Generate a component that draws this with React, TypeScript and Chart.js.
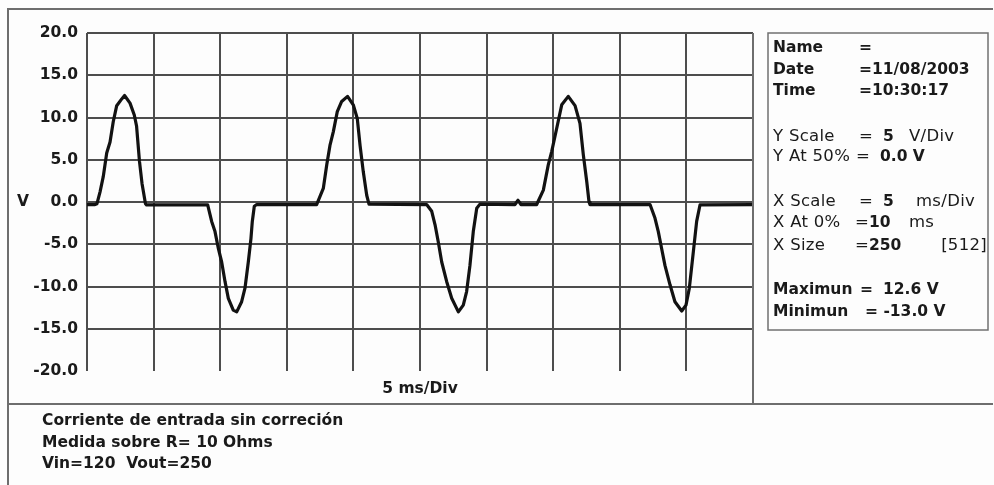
import React, { useEffect, useRef } from "react";
import { Chart, registerables } from "chart.js";

Chart.register(...registerables);

const timeMs = [
  10.0, 10.6, 10.75, 10.98, 11.22, 11.48, 11.73, 11.97, 12.23, 12.61, 12.82, 13.23, 13.55, 13.72, 13.94, 14.13, 14.39, 14.47,
  19.06, 19.36, 19.61, 19.86, 20.11, 20.36, 20.61, 20.98, 21.24, 21.61, 21.86, 22.11, 22.31, 22.41, 22.56, 22.74,
  27.24, 27.74, 28.0, 28.24, 28.49, 28.79, 29.12, 29.56, 29.99, 30.29, 30.5, 30.74, 31.0, 31.17,
  35.5, 35.88, 36.13, 36.37, 36.63, 37.0, 37.38, 37.88, 38.25, 38.5, 38.75, 39.0, 39.26, 39.5,
  42.13, 42.36, 42.58, 43.76, 44.26, 44.63, 44.89, 45.26, 45.64, 46.13, 46.64, 47.01, 47.26, 47.52, 47.69, 47.76,
  52.27, 52.64, 52.89, 53.14, 53.39, 53.77, 54.14, 54.65, 54.97, 55.22, 55.52, 55.77, 56.02, 60.0,
];
const volts = [
  -0.3, -0.3, -0.2, 1.2, 3.0, 5.8, 7.1, 9.5, 11.4, 12.2, 12.6, 11.7, 10.3, 9.0, 4.8, 2.2, -0.2, -0.35,
  -0.35, -2.3, -3.5, -5.5, -7.1, -9.4, -11.4, -12.8, -13.0, -11.8, -10.2, -7.1, -4.3, -2.3, -0.5, -0.3,
  -0.3, 1.6, 4.4, 6.7, 8.3, 10.7, 11.9, 12.5, 11.5, 9.9, 6.7, 3.6, 0.8, -0.25,
  -0.3, -1.1, -2.7, -4.7, -7.1, -9.4, -11.4, -13.0, -12.2, -10.6, -7.5, -3.5, -0.75, -0.25,
  -0.3, 0.2, -0.3, -0.3, 1.4, 4.4, 6.0, 8.7, 11.5, 12.5, 11.4, 9.3, 5.6, 2.4, 0.0, -0.3,
  -0.3, -1.9, -3.5, -5.5, -7.5, -9.8, -11.8, -12.9, -12.2, -10.2, -5.9, -2.3, -0.35, -0.3,
];

const xMin = 10;
const xMax = 60;
const xStep = 5;
const yMin = -20;
const yMax = 20;
const yStep = 5;
const xTitle = "5 ms/Div";
const yTitle = "V";

const notes = [
  "Corriente de entrada sin correción",
  "Medida sobre R= 10 Ohms",
  "Vin=120  Vout=250",
];

const FONT = "'DejaVu Sans'";
const BOLD = `bold 15.5px ${FONT}`;
const REG = `16.5px ${FONT}`;

type Seg = { t: string; x: number; bold?: boolean; right?: boolean };
type Row = { y: number; segs: Seg[] };

const infoRows: Row[] = [
  { y: 48, segs: [{ t: "Name", x: 773, bold: true }, { t: "=", x: 859, bold: true }] },
  { y: 70, segs: [{ t: "Date", x: 773, bold: true }, { t: "=11/08/2003", x: 859, bold: true }] },
  { y: 91, segs: [{ t: "Time", x: 773, bold: true }, { t: "=10:30:17", x: 859, bold: true }] },
  { y: 137, segs: [{ t: "Y Scale", x: 773 }, { t: "=", x: 859 }, { t: "5", x: 883, bold: true }, { t: "V/Div", x: 909 }] },
  { y: 157, segs: [{ t: "Y At 50%", x: 773 }, { t: "=", x: 856 }, { t: "0.0 V", x: 880, bold: true }] },
  { y: 202, segs: [{ t: "X Scale", x: 773 }, { t: "=", x: 859 }, { t: "5", x: 883, bold: true }, { t: "ms/Div", x: 916 }] },
  { y: 223, segs: [{ t: "X At 0%", x: 773 }, { t: "=", x: 855 }, { t: "10", x: 869, bold: true }, { t: "ms", x: 909 }] },
  { y: 246, segs: [{ t: "X Size", x: 773 }, { t: "=", x: 855 }, { t: "250", x: 869, bold: true }, { t: "[512]", x: 987, right: true }] },
  { y: 290, segs: [{ t: "Maximun", x: 773, bold: true }, { t: "=", x: 860, bold: true }, { t: "12.6 V", x: 883, bold: true }] },
  { y: 312, segs: [{ t: "Minimun", x: 773, bold: true }, { t: "= -13.0 V", x: 865, bold: true }] },
];

const framePlugin = {
  id: "frame",
  beforeDraw(chart: any) {
    const { ctx, width, height } = chart;
    ctx.save();
    ctx.fillStyle = "#fdfdfd";
    ctx.fillRect(0, 0, width, height);
    ctx.restore();
  },
  afterDraw(chart: any) {
    const { ctx, chartArea } = chart;
    ctx.save();
    ctx.strokeStyle = "#6e6e6e";
    ctx.lineWidth = 2;
    ctx.beginPath();
    ctx.moveTo(8, 485);
    ctx.lineTo(8, 9);
    ctx.lineTo(993, 9);
    ctx.moveTo(8, 404);
    ctx.lineTo(993, 404);
    ctx.moveTo(chartArea.right, chartArea.top);
    ctx.lineTo(chartArea.right, 404);
    ctx.stroke();
    ctx.lineWidth = 1.5;
    ctx.strokeStyle = "#707070";
    ctx.strokeRect(768, 33, 220, 297);

    ctx.fillStyle = "#1a1a1a";
    ctx.textBaseline = "middle";
    ctx.font = BOLD;
    ctx.textAlign = "center";
    ctx.fillText(yTitle, 23, (chartArea.top + chartArea.bottom) / 2);
    for (const row of infoRows) {
      for (const s of row.segs) {
        ctx.font = s.bold ? BOLD : REG;
        (ctx as any).letterSpacing = s.bold ? "0px" : "0.3px";
        ctx.textAlign = s.right ? "right" : "left";
        ctx.fillText(s.t, s.x, row.y);
      }
    }
    (ctx as any).letterSpacing = "0px";
    ctx.textAlign = "left";
    ctx.font = BOLD;
    notes.forEach((n, i) => ctx.fillText(n, 42, 421 + i * 21.5));
    ctx.restore();
  },
};

export default function App() {
  const ref = useRef<HTMLCanvasElement | null>(null);
  useEffect(() => {
    document.body.style.margin = "0";
    const data = timeMs.map((t, i) => ({ x: t, y: volts[i] }));
    const grid = "#4d4d4d";
    const chart = new Chart(ref.current as HTMLCanvasElement, {
      type: "line",
      data: {
        datasets: [
          {
            data,
            borderColor: "#121212",
            borderWidth: 3.2,
            borderJoinStyle: "round",
            borderCapStyle: "round",
            pointRadius: 0,
            tension: 0,
            fill: false,
          },
        ],
      },
      options: {
        animation: false,
        responsive: true,
        maintainAspectRatio: false,
        layout: { padding: { left: 0, top: 33, right: 241, bottom: 81 } },
        plugins: { legend: { display: false }, tooltip: { enabled: false } },
        scales: {
          x: {
            type: "linear",
            min: xMin,
            max: xMax,
            ticks: { display: false, stepSize: xStep },
            border: { display: false },
            grid: { color: grid, lineWidth: 2, drawTicks: false },
            title: {
              display: true,
              text: xTitle,
              color: "#1a1a1a",
              font: { family: FONT, size: 15.5, weight: "bold" },
              padding: { top: 0, bottom: 6 },
            },
            afterFit: (s: any) => {
              s.height = 33;
            },
          },
          y: {
            type: "linear",
            min: yMin,
            max: yMax,
            ticks: {
              stepSize: yStep,
              padding: 9,
              color: "#1a1a1a",
              font: { family: FONT, size: 15.5, weight: "bold" },
              callback: (v: any) => Number(v).toFixed(1),
            },
            border: { display: false },
            grid: {
              color: (c: any) => (c.tick && c.tick.value === yMin ? "rgba(0,0,0,0)" : grid),
              lineWidth: 2,
              drawTicks: false,
            },
            afterFit: (s: any) => {
              s.width = 87;
            },
          },
        },
      },
      plugins: [framePlugin],
    });
    return () => chart.destroy();
  }, []);
  return (
    <div style={{ position: "relative", width: 994, height: 485 }}>
      <canvas ref={ref} />
    </div>
  );
}
